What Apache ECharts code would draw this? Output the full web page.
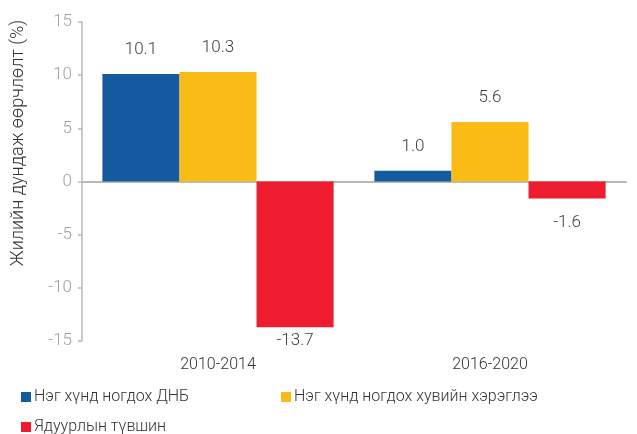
<!DOCTYPE html>
<html>
<head>
<meta charset="utf-8">
<script src="https://cdn.jsdelivr.net/npm/echarts@6/dist/echarts.min.js"></script>
<style>
  html, body { margin: 0; padding: 0; background: #fff; }
  #chart { width: 637px; height: 434px; }
</style>
</head>
<body>
<div id="chart"></div>
<script>
var categories = ["2010-2014", "2016-2020"];
var seriesNames = ["Нэг хүнд ногдох ДНБ", "Нэг хүнд ногдох хувийн хэрэглээ", "Ядуурлын түвшин"];
var gdpValues = [10.1, 1.0];
var consumptionValues = [10.3, 5.6];
var povertyValues = [-13.7, -1.6];
var colors = ["#145a9e", "#fbbb16", "#ee1c2e"];

var myChart = echarts.init(document.getElementById("chart"));
var font = "Roboto, 'Noto Sans', sans-serif";

// label goes below for negative bars
function makeData (values) {
  return values.map(function (v) {
    return {
      value: v,
      label: {
        position: v < 0 ? "bottom" : "top",
        distance: v < -10 ? 5 : 16
      }
    };
  });
}

var allValues = [gdpValues, consumptionValues, povertyValues];
var series = allValues.map(function (vals, i) {
  return {
    name: seriesNames[i],
    type: "bar",
    data: makeData(vals),
    barGap: "0%",
    barCategoryGap: "15%",
    itemStyle: { color: colors[i] },
    label: {
      show: true,
      color: "#404040",
      fontSize: 17,
      fontWeight: 300,
      fontFamily: font,
      formatter: function (p) { return p.value.toFixed(1); }
    }
  };
});

var legendPos = [
  { left: 16, top: 384 },
  { left: 276, top: 384 },
  { left: 16, top: 414 }
];

myChart.setOption({
  animation: false,
  grid: { left: 82, right: 11, top: 22, bottom: 93 },
  legend: seriesNames.map(function (n, i) {
    return {
      data: [n],
      left: legendPos[i].left,
      top: legendPos[i].top,
      icon: "rect",
      itemWidth: 10,
      itemHeight: 10,
      itemGap: 4,
      textStyle: { color: "#333", fontSize: 16, fontWeight: 300, fontFamily: font, padding: [0, 0, 0, -2] }
    };
  }),
  graphic: [{
    type: "text",
    rotation: Math.PI / 2,
    position: [18, 143],
    style: {
      text: "Жилийн дундаж өөрчлөлт (%)",
      fill: "#333",
      font: "300 18px " + font,
      textAlign: "center",
      textVerticalAlign: "middle"
    }
  }],
  xAxis: [{
    type: "category",
    data: categories,
    position: "bottom",
    axisLine: { show: false, onZero: false },
    axisTick: { show: false },
    axisLabel: { color: "#333", fontSize: 16, fontWeight: 300, fontFamily: font, margin: 16 }
  }, {
    type: "category",
    data: categories,
    axisLine: { show: true, onZero: true, lineStyle: { color: "#b8b8b8", width: 2 } },
    axisTick: { show: false },
    axisLabel: { show: false }
  }],
  yAxis: {
    type: "value",
    min: -15,
    max: 15,
    interval: 5,
    splitLine: { show: false },
    axisLine: { show: true, lineStyle: { color: "#b8b8b8", width: 1.5 } },
    axisTick: { show: true, length: 4, lineStyle: { color: "#b8b8b8", width: 1.5 } },
    axisLabel: { color: "#a0a0a0", fontSize: 17, fontWeight: 300, fontFamily: font, margin: 10 }
  },
  series: series
});
</script>
</body>
</html>
